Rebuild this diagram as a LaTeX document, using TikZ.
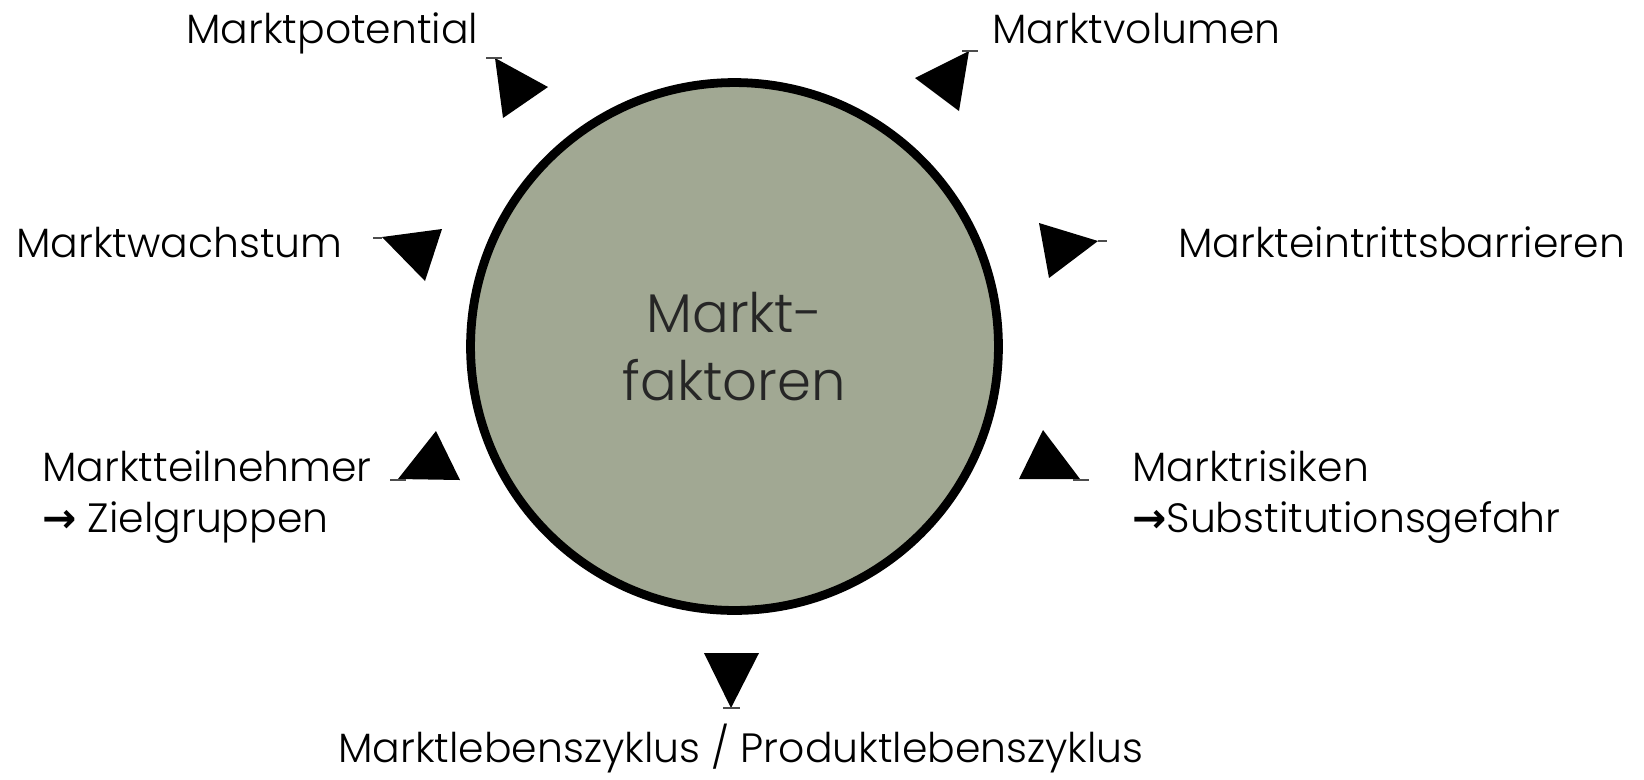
\documentclass[tikz,border=0pt]{standalone}
\usepackage{fontspec}
\setmainfont{Poppins Light}
\newfontfamily\pfeilfont{DejaVu Sans}
\definecolor{kreisgruen}{RGB}{161,168,147}

\begin{document}
\begin{tikzpicture}[x=0.02cm,y=-0.02cm,
	faktor/.style={inner sep=0pt,anchor=base west,align=left,font=\fontsize{23.3}{28.5}\selectfont},
	spitze/.style={fill=black},
	stub/.style={draw=black!70,line width=0.6pt}]

	\useasboundingbox (0,0) rectangle (1644,779);

	% center circle
	\node [circle,draw=black,line width=5pt,fill=kreisgruen,minimum size=10.56cm,align=center,
		text=black!85,font=\fontsize{31}{38.7}\selectfont] (kreis) at (734.5,346.5) {Markt-\\faktoren};

	% factors
	\node [faktor] (potential) at (186,43) {Marktpotential};
	\node [faktor] (volumen) at (992,43) {Marktvolumen};
	\node [faktor] (wachstum) at (16,257) {Marktwachstum};
	\node [faktor] (barrieren) at (1178,257) {Markteintrittsbarrieren};
	\node [faktor] (teilnehmer) at (42,532) {Marktteilnehmer\\{\pfeilfont\bfseries →} Zielgruppen};
	\node [faktor] (risiken) at (1132,532) {Marktrisiken\\{\pfeilfont\bfseries →}Substitutionsgefahr};
	\node [faktor,anchor=base] (zyklus) at (741,762) {Marktlebenszyklus / Produktlebenszyklus};

	% triangles round the circle
	\foreach \a/\b/\c/\s/\t in {
		{495,58}/{548,87}/{503,118}/{486,58}/{502,58},
		{969,51}/{915,78}/{959,111}/{962,51}/{978,51},
		{382,237}/{442,229}/{425,281}/{373,238}/{382,238},
		{1039,223}/{1098,241}/{1049,278}/{1098,241}/{1107,241},
		{398,479}/{436,431}/{460,480}/{390,480}/{406,480},
		{1019,479}/{1043,430}/{1080,479}/{1073,480}/{1089,480},
		{704,653}/{759,653}/{731,708}/{723,708}/{740,708}}
	{
		\fill [spitze] (\a) -- (\b) -- (\c) -- cycle;
		\draw [stub] (\s) -- (\t);
	}
\end{tikzpicture}
\end{document}
